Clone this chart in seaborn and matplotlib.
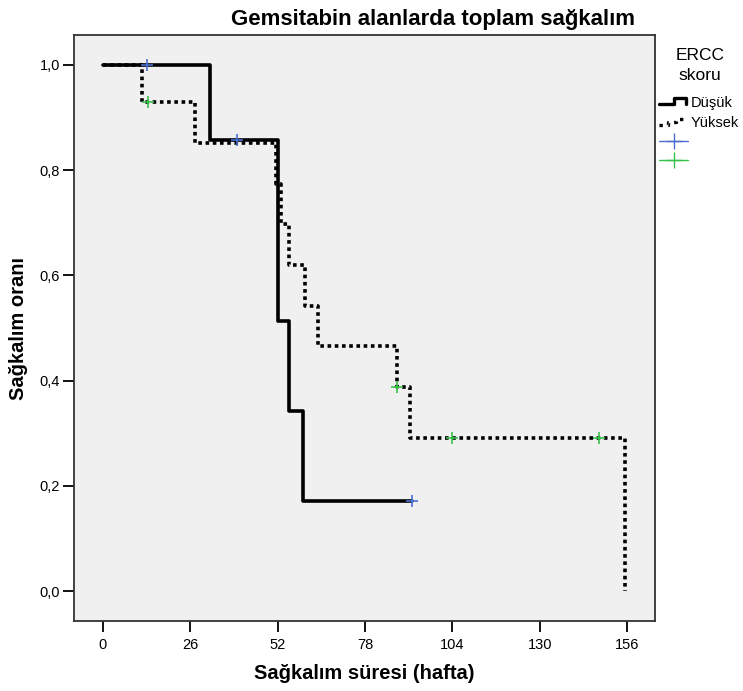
import numpy as np
import pandas as pd
import matplotlib
matplotlib.use("Agg")
import matplotlib.pyplot as plt
import seaborn as sns
from matplotlib.lines import Line2D
from matplotlib.legend_handler import HandlerBase

# ---- data ----
low_times = [0, 32, 52, 55.5, 59.5, 92]
low_surv = [1.0, 0.857, 0.514, 0.343, 0.171, 0.171]
low_cens_t = [13, 40, 92]
low_cens_s = [1.0, 0.857, 0.171]

high_times = [0, 11.5, 27.5, 51.5, 53, 55.5, 60, 64, 87.5, 91.5, 155.5]
high_surv = [1.0, 0.929, 0.852, 0.774, 0.697, 0.619, 0.542, 0.465, 0.387, 0.290, 0.0]
high_cens_t = [13.5, 87.5, 104, 147.5]
high_cens_s = [0.929, 0.387, 0.290, 0.290]

groups = ["Düşük", "Yüksek"]
x_ticks = [0, 26, 52, 78, 104, 130, 156]
y_ticks = [0.0, 0.2, 0.4, 0.6, 0.8, 1.0]
y_ticklabels = ["0,0", "0,2", "0,4", "0,6", "0,8", "1,0"]

sns.set_theme(style="white")
plt.rcParams['font.family'] = ['Liberation Sans', 'DejaVu Sans']
plt.rcParams.update({"text.color": "black", "axes.labelcolor": "black",
                     "xtick.color": "black", "ytick.color": "black"})

df_low = pd.DataFrame({"t": low_times, "s": low_surv, "g": groups[0]})
df_high = pd.DataFrame({"t": high_times, "s": high_surv, "g": groups[1]})

W, H = 743, 691
fig = plt.figure(figsize=(W/100, H/100), dpi=100)
ax = fig.add_axes([74/W, 1-621/H, (655-74)/W, (621-35)/H])
ax.set_facecolor("#f0f0f0")

BLUE = "#4a6fd0"
GREEN = "#35c24a"

sns.lineplot(data=df_low, x="t", y="s", ax=ax, drawstyle="steps-post",
             color="black", lw=2.6, estimator=None, sort=False, legend=False)
sns.lineplot(data=df_high, x="t", y="s", ax=ax, drawstyle="steps-post",
             color="black", lw=2.6, estimator=None, sort=False, legend=False,
             linestyle=(0, (1, 1)), dash_capstyle="butt")
sns.scatterplot(x=low_cens_t, y=low_cens_s, ax=ax, marker="+", s=80,
                color=BLUE, linewidth=1.2, zorder=5, legend=False)
sns.scatterplot(x=high_cens_t, y=high_cens_s, ax=ax, marker="+", s=80,
                color=GREEN, linewidth=1.2, zorder=5, legend=False)

ax.set_xlim(-8.6, 164.3)
ax.set_ylim(-0.057, 1.057)
ax.set_xticks(x_ticks)
ax.set_xticklabels([str(v) for v in x_ticks], fontsize=10.5)
ax.set_yticks(y_ticks)
ax.set_yticklabels(y_ticklabels, fontsize=10.5)
ax.tick_params(axis="x", direction="out", length=8, width=1.3, color="black",
               bottom=True, pad=4)
ax.tick_params(axis="y", direction="out", length=8, width=1.3, color="black",
               left=True, pad=2)
for sp in ax.spines.values():
    sp.set_color("#333333")
    sp.set_linewidth(1.3)

ax.set_xlabel("Sağkalım süresi (hafta)", fontsize=14.5, fontweight="bold", labelpad=9)
ax.set_ylabel("Sağkalım oranı", fontsize=14.5, fontweight="bold", labelpad=8)

fig.text(433/W, 1-20/H, "Gemsitabin alanlarda toplam sağkalım", ha="center",
         va="center", fontsize=16, fontweight="bold")

# legend title
fig.text(700/W, 1-55/H, "ERCC", ha="center", va="center", fontsize=12.5)
fig.text(700/W, 1-75/H, "skoru", ha="center", va="center", fontsize=12.5)


class StepHandler(HandlerBase):
    def create_artists(self, legend, orig_handle, xdescent, ydescent, width, height, fontsize, trans):
        if orig_handle.get_linestyle() == "-":
            xs = np.array([0, 0.5, 0.5, 0.92, 0.92])
            ys = np.array([0.3, 0.3, 0.8, 0.8, 0.35])
        else:
            xs = np.array([0, 0.3, 0.3, 0.6, 0.6, 0.85, 0.85, 0.95])
            ys = np.array([0.2, 0.2, 0.5, 0.5, 0.75, 0.75, 0.6, 0.6])
        ln = Line2D(xs * width - xdescent, ys * height - ydescent,
                    color=orig_handle.get_color(), lw=orig_handle.get_linewidth(),
                    linestyle=orig_handle.get_linestyle(), transform=trans)
        return [ln]


h_low = Line2D([], [], color="black", lw=2.4, linestyle="-")
h_high = Line2D([], [], color="black", lw=2.4, linestyle=":")
h_c1 = Line2D([], [], color=BLUE, lw=1.0, marker="+", markersize=12, markeredgewidth=1.0)
h_c2 = Line2D([], [], color=GREEN, lw=1.0, marker="+", markersize=12, markeredgewidth=1.0)
leg = fig.legend([h_low, h_high, h_c1, h_c2], ["Düşük", "Yüksek", "", ""],
                 handler_map={h_low: StepHandler(), h_high: StepHandler()},
                 loc="upper left", bbox_to_anchor=(656/W, 1-93/H), frameon=False,
                 fontsize=10.5, labelcolor="black",
                 handlelength=2.0, handleheight=0.9, handletextpad=0.15, labelspacing=0.38,
                 borderaxespad=0, borderpad=0.2)

fig.savefig("out.png", dpi=100, facecolor="white")
